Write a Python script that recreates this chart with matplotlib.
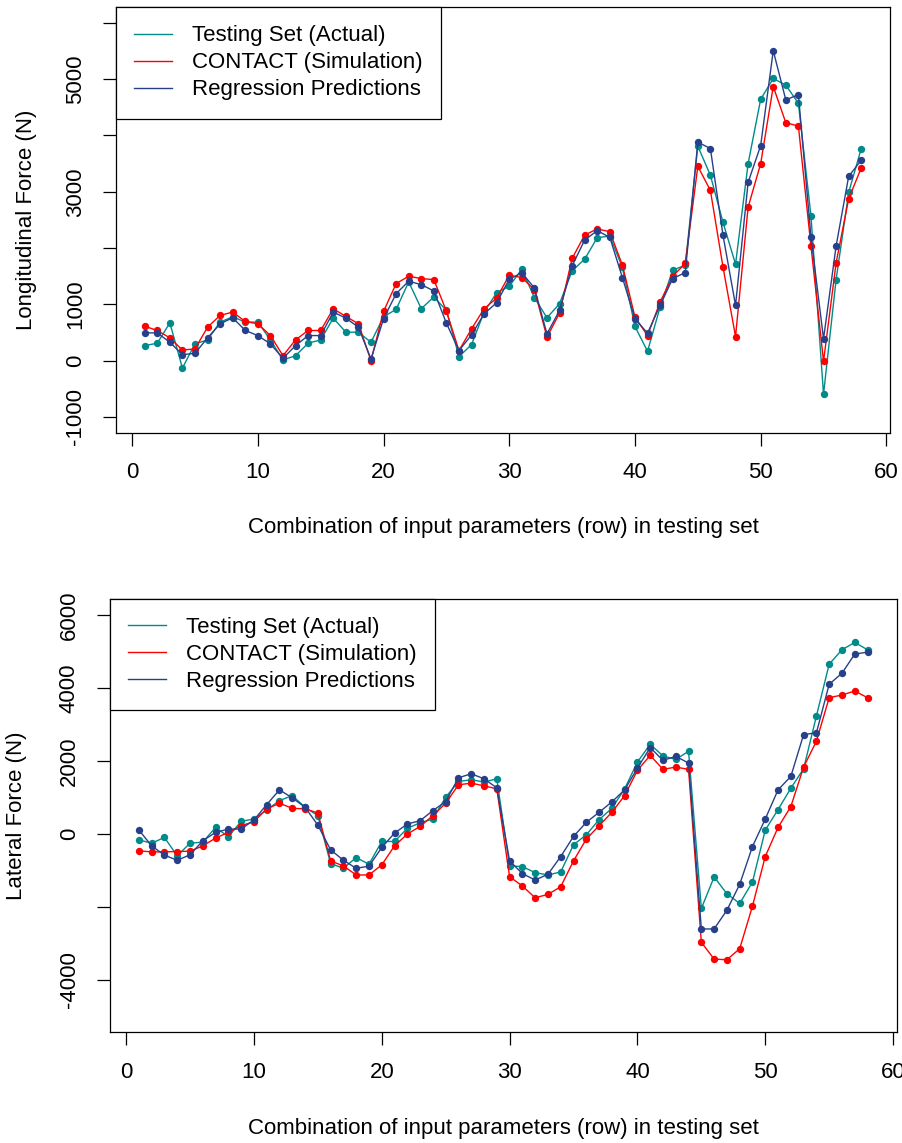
import numpy as np
import matplotlib
matplotlib.use('Agg')
import matplotlib.pyplot as plt

plt.rcParams['font.family'] = ['Liberation Sans', 'DejaVu Sans']
plt.rcParams['font.size'] = 16

rows = np.arange(1, 59)

# Longitudinal force (N)
long_actual = [268, 310, 672, -131, 298, 369, 685, 780, 685, 685,
               369, 12, 89, 310, 369, 756, 506, 506, 327, 780,
               911, 1399, 923, 1131, 893, 71, 286, 863, 1208, 1321,
               1625, 1119, 762, 1012, 1595, 1804, 2184, 2214, 1655, 607,
               167, 952, 1607, 1696, 3810, 3292, 2458, 1714, 3500, 4643,
               5012, 4893, 4571, 2571, -595, 1440, 2988, 3768]
long_contact = [612, 536, 405, 190, 208, 595, 804, 863, 696, 655,
                446, 89, 369, 536, 536, 922, 786, 655, 0, 875,
                1369, 1500, 1458, 1440, 881, 179, 565, 922, 1113, 1518,
                1476, 1262, 417, 845, 1815, 2232, 2339, 2291, 1696, 774,
                446, 1042, 1500, 1726, 3452, 3024, 1667, 429, 2726, 3500,
                4869, 4226, 4167, 2036, -12, 1738, 2875, 3423]
long_regr = [494, 494, 327, 107, 131, 405, 655, 762, 536, 446,
             298, 42, 268, 446, 446, 863, 756, 595, 30, 744,
             1190, 1411, 1351, 1238, 667, 179, 458, 833, 1030, 1446,
             1560, 1292, 476, 893, 1684, 2143, 2309, 2190, 1476, 744,
             488, 982, 1458, 1565, 3881, 3768, 2232, 982, 3167, 3821,
             5506, 4631, 4726, 2202, 387, 2036, 3274, 3560]

# Lateral force (N)
lat_actual = [-166, -260, -101, -607, -258, -230, 175, -83, 340, 405,
              653, 910, 1048, 727, 497, -818, -947, -653, -837, -212,
              -212, 150, 300, 405, 1001, 1434, 1481, 1420, 1508, -883,
              -901, -1067, -1131, -1048, -303, -28, 386, 700, 1232, 1968,
              2455, 2133, 2041, 2262, -2050, -1186, -1646, -1913, -1324, 101,
              662, 1250, 1784, 3228, 4653, 5048, 5250, 5048]
lat_contact = [-469, -497, -497, -487, -480, -331, -120, 37, 221, 331,
               681, 837, 699, 681, 570, -745, -883, -1131, -1131, -855,
               -331, -9, 202, 497, 837, 1343, 1389, 1315, 1232, -1177,
               -1434, -1756, -1664, -1453, -745, -147, 221, 588, 1048, 1738,
               2152, 1766, 1830, 1766, -2979, -3439, -3457, -3154, -1986, -625,
               175, 745, 1830, 2538, 3733, 3807, 3917, 3733]
lat_regr = [102, -330, -589, -727, -579, -193, 37, 129, 129, 377,
            800, 1205, 984, 727, 239, -441, -727, -947, -890, -377,
            18, 267, 359, 634, 883, 1536, 1646, 1508, 1260, -745,
            -1094, -1269, -1112, -625, -74, 313, 588, 874, 1205, 1802,
            2364, 2014, 2124, 1940, -2612, -2612, -2097, -1388, -350, 405,
            1205, 1572, 2722, 2768, 4101, 4405, 4929, 4984]

series_labels = ['Testing Set (Actual)', 'CONTACT (Simulation)', 'Regression Predictions']
series_colors = ['#008B8B', '#FF0000', '#27408B']

x_ticks = [0, 10, 20, 30, 40, 50, 60]
top_yticks = [-1000, 0, 1000, 2000, 3000, 4000, 5000, 6000]
top_ylabels = ['-1000', '0', '1000', '', '3000', '', '5000', '']
bot_yticks = [-4000, -2000, 0, 2000, 4000, 6000]
bot_ylabels = ['-4000', '', '0', '2000', '4000', '6000']

fig = plt.figure(figsize=(9.03, 11.43), dpi=100)
ax1 = fig.add_axes([0.1285, 0.6214, 0.857, 0.3724])
ax2 = fig.add_axes([0.1215, 0.0971, 0.8715, 0.3788])


def draw(ax, series, ylim, yticks, ylabels, ylabel, lab_x):
    for vals, lab, col in zip(series, series_labels, series_colors):
        ax.plot(rows, vals, '-o', color=col, lw=1.0, ms=5.3, mew=0, label=lab)
    span = ylim[1] - ylim[0]
    ax.set_ylim(ylim[0] - 0.04 * span, ylim[1] + 0.04 * span)
    ax.set_xlim(1 - 0.04 * 57, 58 + 0.04 * 57)
    ax.set_xticks(x_ticks)
    ax.set_yticks(yticks)
    ax.set_yticklabels(ylabels, rotation=90, va='center')
    ax.tick_params(length=9.4, width=0.9, pad=12, labelsize=16)
    for s in ax.spines.values():
        s.set_linewidth(0.9)
    ax.set_xlabel('Combination of input parameters (row) in testing set', va='center')
    ax.xaxis.set_label_coords(0.5, -0.222)
    ax.set_ylabel(ylabel, va='center')
    ax.yaxis.set_label_coords(lab_x, 0.5)
    handles = [plt.Line2D([], [], color=c, lw=1.0) for c in series_colors]
    leg = ax.legend(handles, series_labels, loc='upper left', borderaxespad=0,
                    fancybox=False, framealpha=1, edgecolor='black',
                    handlelength=1.7, handletextpad=0.9, borderpad=0.82,
                    labelspacing=0.27, fontsize=16)
    leg.get_frame().set_linewidth(0.9)


draw(ax1, [long_actual, long_contact, long_regr], (-1000, 6000),
     top_yticks, top_ylabels, 'Longitudinal Force (N)', -0.116)
draw(ax2, [lat_actual, lat_contact, lat_regr], (-5000, 6000),
     bot_yticks, bot_ylabels, 'Lateral Force (N)', -0.119)

fig.savefig('out.png', dpi=100)
